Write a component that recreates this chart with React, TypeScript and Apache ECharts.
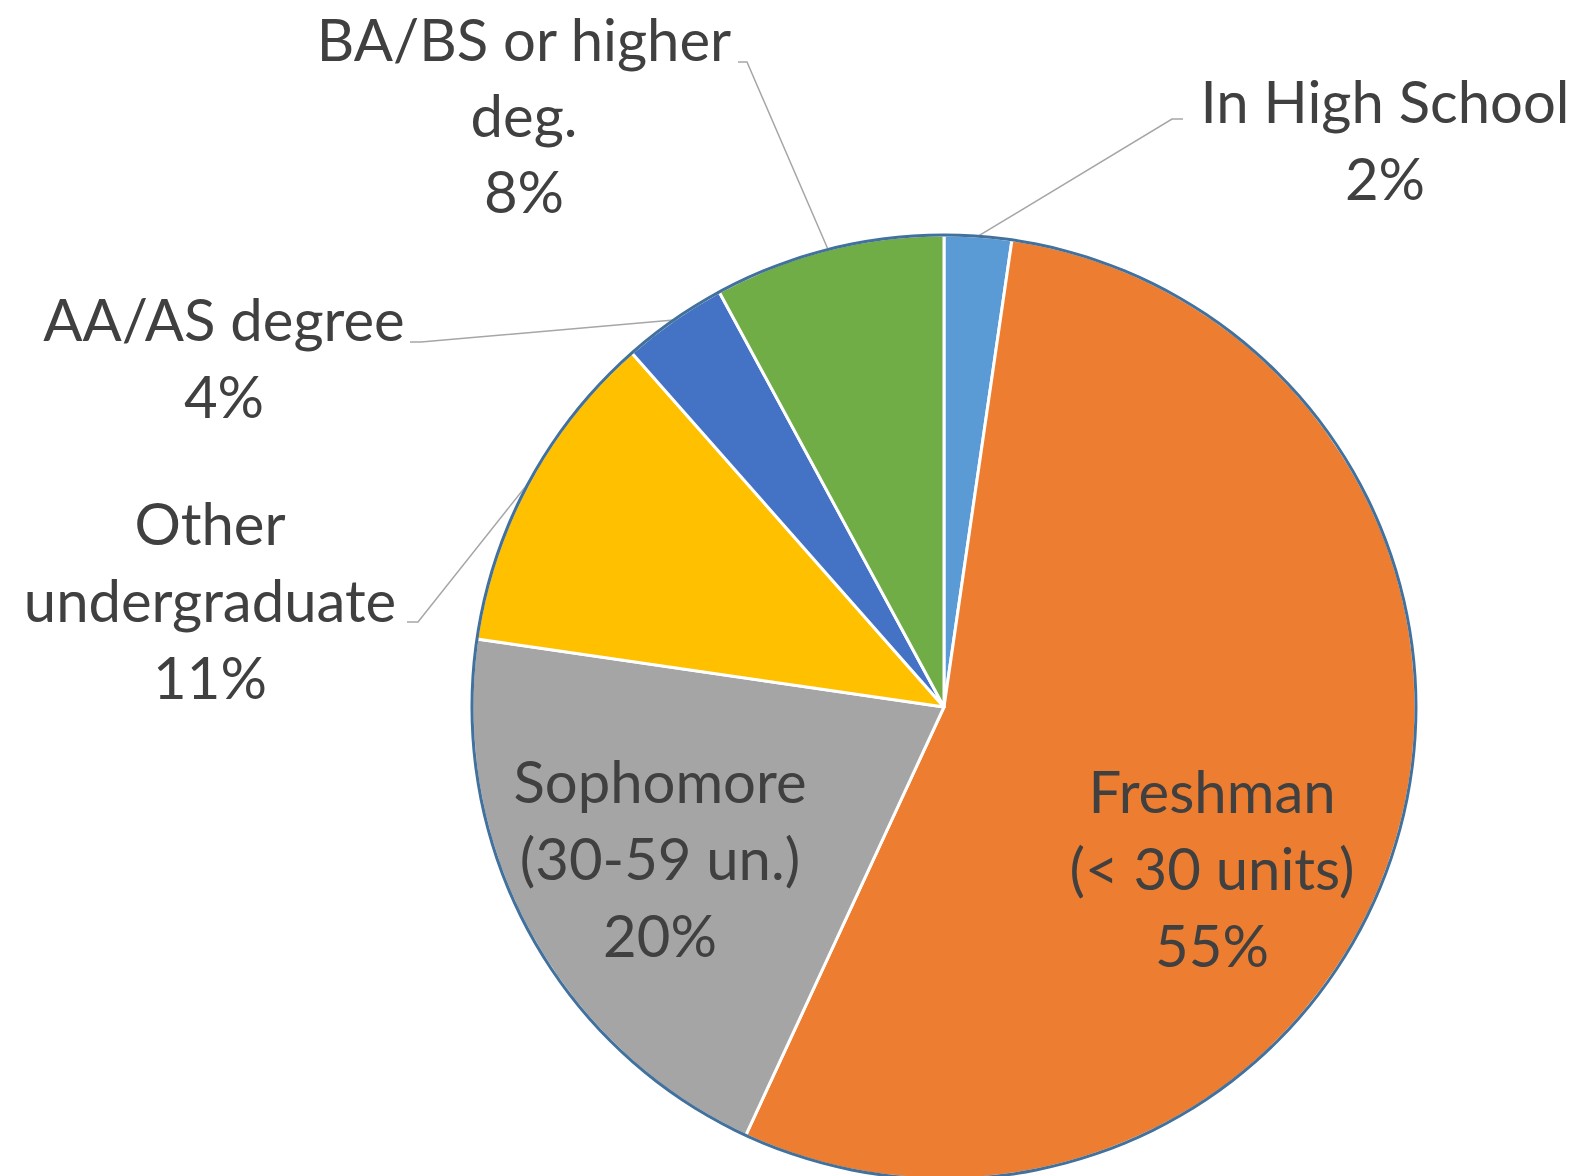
import React, { useEffect, useRef } from "react";
import * as echarts from "echarts";

// Data
const categories = [
  "In High School",
  "Freshman\n(< 30 units)",
  "Sophomore\n(30-59 un.)",
  "Other\nundergraduate",
  "AA/AS degree",
  "BA/BS or higher\ndeg.",
];
const values = [2.3, 54.6, 20.4, 11.2, 3.6, 7.9];
const colors = ["#5B9BD5", "#ED7D31", "#A5A5A5", "#FFC000", "#4472C4", "#70AD47"];
const insideLabels = [false, true, true, false, false, false];

// Label layout (label block centres and leader-line elbows), page pixels
const labelCenters: [number, number][] = [
  [1385, 139],
  [1212, 867],
  [660, 857],
  [210, 599],
  [224, 357],
  [524, 114],
];
const leaderElbows: ([number, number][] | null)[] = [
  [[1172, 119], [1183, 119]],
  null,
  null,
  [[418, 622], [407, 622]],
  [[421, 342], [410, 342]],
  [[747, 62], [738, 62]],
];

const W = 1578;
const H = 1176;
const CX = 944;
const CY = 707;
const R = 472;
const FONT = "Lato";
const FONT_SIZE = 58;
const LINE_H = 77;

export default function App() {
  const ref = useRef<HTMLDivElement>(null);
  useEffect(() => {
    document.body.style.margin = "0";
    if (!ref.current) return;
    const chart = echarts.init(ref.current, null, { renderer: "svg" });
    const data = categories.map((name, i) => ({
      name,
      value: values[i],
      itemStyle: { color: colors[i] },
      label: {
        position: insideLabels[i] ? "inside" : "outside",
        lineHeight: i === 5 ? 76 : LINE_H,
      },
      labelLine: { show: !insideLabels[i] },
    }));
    chart.setOption({
      animation: false,
      backgroundColor: "#ffffff",
      series: [
        {
          type: "pie",
          center: [CX, CY],
          radius: [0, R],
          startAngle: 90,
          clockwise: true,
          percentPrecision: 0,
          avoidLabelOverlap: false,
          itemStyle: { borderColor: "#ffffff", borderWidth: 3 },
          label: {
            show: true,
            formatter: "{b}\n{d}%",
            color: "#404040",
            fontFamily: FONT,
            fontSize: FONT_SIZE,
            lineHeight: LINE_H,
            align: "center",
          },
          labelLine: {
            show: true,
            length: 20,
            length2: 10,
            lineStyle: { color: "#A6A6A6", width: 1.5 },
          },
          labelLayout: (params: any) => {
            const i = params.dataIndex;
            const c = labelCenters[i];
            const out: any = {
              x: c[0],
              y: c[1],
              align: "center",
              verticalAlign: "middle",
            };
            const elbows = leaderElbows[i];
            if (elbows && params.labelLinePoints) {
              out.labelLinePoints = [params.labelLinePoints[0], elbows[0], elbows[1]];
            }
            return out;
          },
          emphasis: { disabled: true },
          data,
        },
        {
          type: "pie",
          center: [CX, CY],
          radius: [R - 1.5, R + 1.5],
          silent: true,
          label: { show: false },
          labelLine: { show: false },
          itemStyle: { color: "#41719C", borderWidth: 0 },
          emphasis: { disabled: true },
          data: [{ name: "outline", value: 1 }],
        },
      ],
    });
    return () => chart.dispose();
  }, []);
  return <div ref={ref} style={{ width: W, height: H }} />;
}
